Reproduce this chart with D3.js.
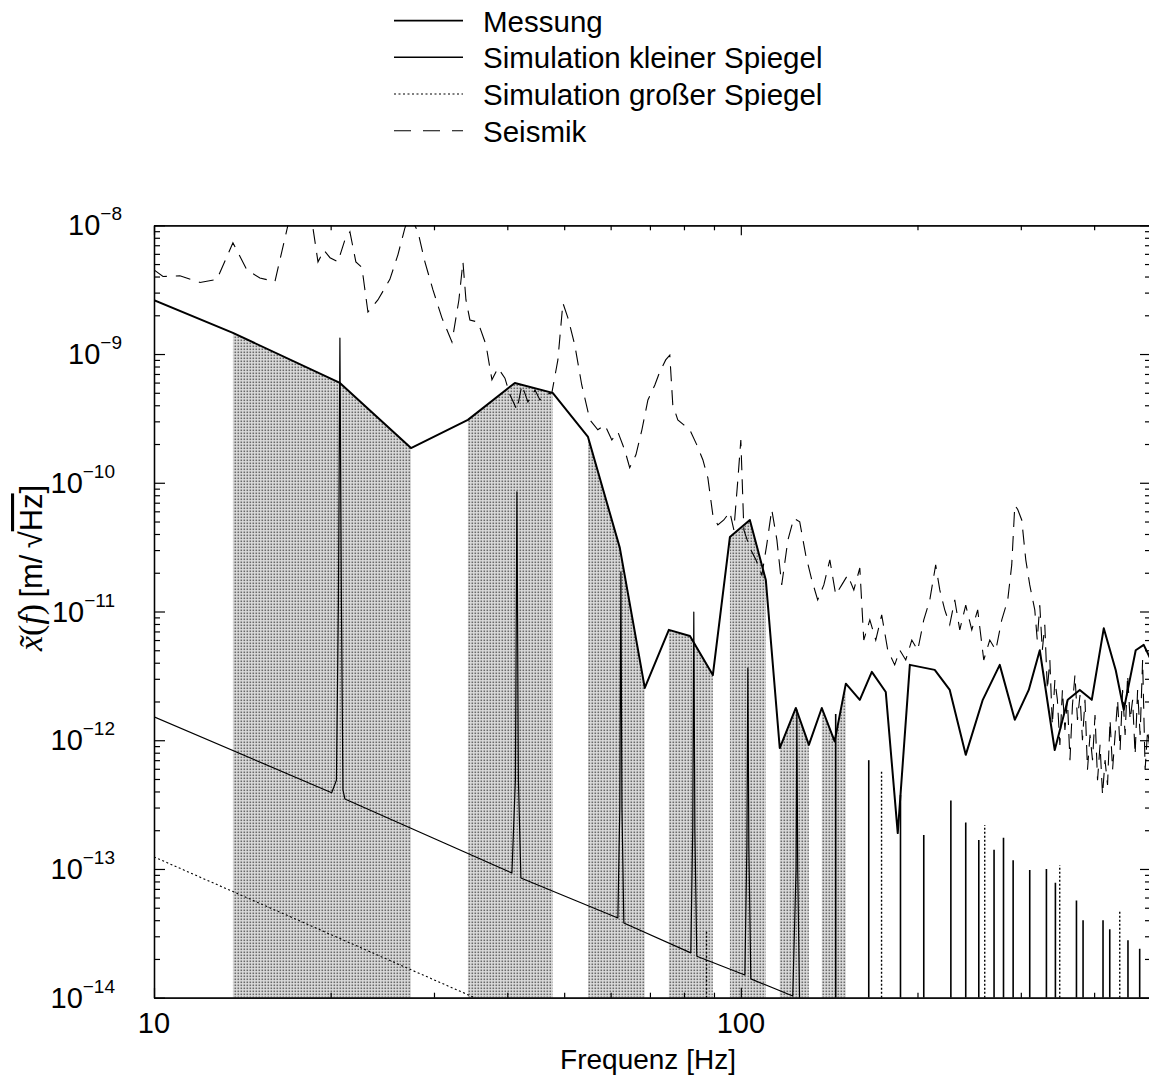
<!DOCTYPE html>
<html>
<head>
<meta charset="utf-8">
<script src="https://cdn.jsdelivr.net/npm/d3@7"></script>
<style>
  body { margin: 0; background: #fff; }
  svg { display: block; }
  text { font-family: "Liberation Sans", Arial, Helvetica, sans-serif; fill: #000; }
</style>
</head>
<body>
<svg id="chart" width="1149" height="1080"></svg>
<script>
// ---- data -------------------------------------------------------------
// Measured displacement spectrum [Hz, m/sqrt(Hz)]
const messung = [
  [10, 2.62e-9], [13.63, 1.46e-9], [20.74, 5.96e-10], [27.41, 1.86e-10], [34.27, 3.08e-10],
  [41.2, 5.96e-10], [47.8, 4.99e-10], [54.9, 2.27e-10], [62.2, 3.12e-11], [68.6, 2.55e-12],
  [75.4, 7.2e-12], [81.9, 6.45e-12], [89.6, 3.21e-12], [95.8, 3.79e-11],
  [103.6, 5.14e-11], [110.3, 1.76e-11], [116.5, 8.7e-13], [124.1, 1.78e-12], [130.6, 9.2e-13],
  [137.4, 1.78e-12], [144.5, 9.8e-13], [151, 2.75e-12], [159.5, 2.06e-12], [167.2, 3.4e-12],
  [176.6, 2.37e-12], [185.1, 1.9e-13], [194.1, 3.85e-12], [214, 3.52e-12], [227, 2.46e-12],
  [241.7, 7.7e-13], [258.4, 2.06e-12], [276.2, 3.85e-12], [293, 1.44e-12], [309.5, 2.46e-12],
  [323.2, 5.0e-12], [342.7, 8.4e-13], [360.7, 2.06e-12], [378.1, 2.46e-12], [396.3, 2.06e-12],
  [415.4, 7.4e-12], [435.4, 3.5e-12], [449.3, 1.72e-12], [470.9, 5.0e-12], [485.9, 5.5e-12],
  [500, 4.2e-12]
];

// Frequency bands (shaded) [Hz]
const baender = [
  [13.63, 27.41], [34.27, 47.8], [54.9, 68.6], [75.4, 89.6],
  [95.8, 110.3], [116.5, 130.6], [137.4, 151]
];

// Simulation, small mirror: continuous part with resonances
const simKlein = [
  [10, 1.52e-12],
  [20.08, 3.91e-13], [20.46, 4.9e-13], [20.62, 1.23e-11], [20.74, 1.33e-9], [20.86, 1.23e-11], [20.99, 4.1e-13], [21.15, 3.5e-13],
  [40.73, 9.3e-14], [41.29, 4.9e-13], [41.54, 8.5e-11], [41.78, 4.9e-13], [42.19, 8.5e-14],
  [61.73, 4.16e-14], [62.2, 3.0e-13], [62.46, 2.03e-11], [62.72, 3.0e-13], [63.19, 3.8e-14],
  [82.18, 2.23e-14], [82.8, 2.0e-13], [83.15, 9.9e-12], [83.5, 2.0e-13], [84.14, 2.1e-14],
  [101.6, 1.5e-14], [102.4, 1.5e-13], [102.8, 3.64e-12], [103.2, 1.5e-13], [104.0, 1.4e-14],
  [122.6, 1.03e-14], [124.2, 1.0e-13], [124.6, 1.72e-12], [125.0, 1.0e-13], [126.0, 8e-15]
];
// Simulation, small mirror: resonance peaks above the lower axis limit [Hz, m/sqrt(Hz)]
const simKleinSpitzen = [
  [145.1, 1.6e-12], [165.2, 7.0e-13], [187.1, 3.76e-13], [205.0, 1.84e-13], [228.0, 3.4e-13],
  [241.7, 2.3e-13], [254.4, 1.68e-13], [270.1, 1.41e-13], [280.3, 1.75e-13], [291.1, 1.17e-13],
  [310.7, 9.8e-14], [331.7, 1.0e-13], [343.6, 7.8e-14], [373.2, 5.7e-14], [383.0, 4.0e-14],
  [414.2, 4.0e-14], [425.3, 3.4e-14], [456.8, 2.8e-14], [478.3, 2.4e-14]
];

// Simulation, large mirror
const simGross = [[10, 1.24e-13], [35.2, 1.0e-14]];
const simGrossSpitzen = [[87.4, 3.36e-14], [173.7, 5.9e-13], [260.4, 2.2e-13], [349.5, 1.07e-13], [442.3, 4.8e-14]];

// Seismic noise
const seismik = [
  [10, 4.5e-9], [10.36, 4.0e-9], [11.07, 4.05e-9], [11.98, 3.6e-9], [12.8, 3.8e-9], [13.63, 7.3e-9],
  [14.4, 4.5e-9], [15.15, 3.9e-9], [16.07, 3.65e-9], [16.92, 1.01e-8], [17.39, 1.57e-8], [18.08, 1.44e-8],
  [18.66, 9.5e-9], [19.03, 5.2e-9], [19.48, 6.4e-9], [19.95, 5.6e-9], [20.58, 5.2e-9], [21.15, 7.7e-9],
  [21.57, 8.9e-9], [22.08, 5.2e-9], [22.61, 4.7e-9], [23.15, 2.12e-9], [24.07, 2.63e-9], [25.23, 3.8e-9],
  [26.04, 5.9e-9], [26.76, 9.5e-9], [27.29, 1.2e-8], [28.17, 8.9e-9], [28.95, 5.2e-9], [29.88, 3.15e-9],
  [30.95, 1.91e-9], [32.19, 1.24e-9], [33.08, 2.63e-9], [33.61, 5.2e-9], [34.01, 2.63e-9], [34.54, 1.84e-9],
  [35.65, 1.77e-9], [36.79, 1.18e-9], [37.66, 6.3e-10], [38.55, 7.8e-10], [39.63, 6.5e-10], [40.42, 4.82e-10],
  [41.54, 3.68e-10], [42.36, 5.75e-10], [43.37, 4.25e-10], [44.59, 5.26e-10], [45.46, 4.4e-10], [46.36, 4.82e-10],
  [47.64, 4.99e-10], [48.78, 9.0e-10], [49.75, 2.49e-9], [50.74, 1.91e-9], [52.12, 1.18e-9], [53.57, 5.75e-10],
  [55.31, 3.08e-10], [57.06, 2.58e-10], [58.65, 2.82e-10], [60.28, 2.15e-10], [61.73, 2.48e-10], [63.4, 1.8e-10],
  [64.66, 1.31e-10], [66.26, 1.65e-10], [67.83, 2.58e-10], [69.45, 4.4e-10], [71.37, 5.75e-10], [72.78, 7.3e-10],
  [74.47, 9.0e-10], [75.68, 9.8e-10], [76.57, 4.03e-10], [78.09, 3.08e-10], [79.95, 2.82e-10], [81.86, 2.58e-10],
  [84.14, 1.97e-10], [86.15, 1.51e-10], [87.87, 1.09e-10], [89.61, 5.6e-11], [91.38, 4.7e-11], [93.54, 5.14e-11],
  [95.79, 5.93e-11], [97.3, 4.3e-11], [98.83, 1.05e-10], [100.0, 2.15e-10], [101.2, 4.3e-11], [103.6, 3.12e-11],
  [106.1, 2.52e-11], [108.6, 1.92e-11], [110.7, 3.29e-11], [112.9, 6.2e-11], [115.2, 3.6e-11], [117.4, 1.61e-11],
  [120.3, 3.6e-11], [123.1, 5.3e-11], [126.0, 4.97e-11], [129.0, 2.75e-11], [132.1, 1.76e-11], [135.2, 1.23e-11],
  [138.5, 1.61e-11], [141.8, 2.52e-11], [145.1, 1.35e-11], [148.6, 1.61e-11], [152.1, 1.92e-11], [155.8, 1.47e-11],
  [159.5, 2.18e-11], [162.0, 6.0e-12], [165.9, 8.6e-12], [169.8, 6.0e-12], [173.8, 9.4e-12], [178.0, 5.0e-12],
  [182.9, 3.85e-12], [186.6, 5.0e-12], [191.0, 4.2e-12], [195.6, 6.0e-12], [200.2, 5.0e-12], [205.0, 8.6e-12],
  [209.9, 1.23e-11], [214.8, 2.3e-11], [218.3, 1.47e-11], [222.6, 1.03e-11], [227.0, 7.9e-12], [231.5, 1.23e-11],
  [236.1, 7.2e-12], [241.7, 1.12e-11], [247.5, 7.2e-12], [253.3, 1.03e-11], [259.4, 4.2e-12], [265.6, 6.0e-12],
  [271.9, 5.0e-12], [278.4, 8.6e-12], [285.0, 1.23e-11], [289.5, 2.3e-11], [293.0, 6.7e-11], [296.4, 6.2e-11],
  [301.1, 5.14e-11], [305.9, 2.52e-11], [310.7, 1.61e-11],
  [316.9, 1.03e-11], [320, 6.0e-12], [323.2, 1.12e-11], [326.4, 5.0e-12], [329.6, 7.9e-12], [332.9, 2.46e-12],
  [336.2, 4.2e-12], [339.5, 1.31e-12], [342.9, 2.94e-12], [346.3, 2.06e-12], [349.7, 9.2e-13], [353.2, 2.46e-12],
  [356.7, 1.2e-12], [360.2, 2.06e-12], [363.8, 7.0e-13], [367.4, 1.88e-12], [371, 3.21e-12], [374.7, 1.44e-12],
  [378.4, 2.24e-12], [382.1, 1.0e-12], [385.9, 2.06e-12], [389.7, 5.9e-13], [393.6, 1.1e-12], [397.5, 7.0e-13],
  [401.4, 1.57e-12], [405.4, 4.9e-13], [409.4, 9.2e-13], [413.4, 3.76e-13], [417.5, 7.0e-13], [421.6, 4.5e-13],
  [425.8, 1.44e-12], [430, 5.9e-13], [434.3, 1.1e-12], [438.6, 2.06e-12], [442.9, 8.4e-13], [447.3, 2.46e-12],
  [451.7, 1.1e-12], [456.2, 3.21e-12], [460.7, 1.44e-12], [465.2, 2.06e-12], [469.8, 7.7e-13], [474.4, 2.46e-12],
  [479.1, 1.1e-12], [483.8, 4.2e-12], [488.6, 5.9e-13], [493.4, 1.2e-12], [498.3, 8.4e-13]
];

const yExponenten = [-14, -13, -12, -11, -10, -9, -8];
const xTickLabels = [10, 100];
const legendLabels = ["Messung", "Simulation kleiner Spiegel", "Simulation großer Spiegel", "Seismik"];

// ---- scales ------------------------------------------------------------
const svg = d3.select("#chart");
const x = d3.scaleLog().domain([10, 500]).range([154, 1151]);
const y = d3.scaleLog().domain([1e-14, 1e-8]).range([997.7, 225.3]);
const [xL, xR] = x.range();
const [yB, yT] = y.range();

const defs = svg.append("defs");
defs.append("clipPath").attr("id", "plotclip")
  .append("rect").attr("x", xL).attr("y", yT).attr("width", xR - xL).attr("height", yB - yT);

const pat = defs.append("pattern").attr("id", "stipple")
  .attr("patternUnits", "userSpaceOnUse").attr("width", 3).attr("height", 3);
pat.append("rect").attr("width", 3).attr("height", 3).attr("fill", "#dcdcdc");
pat.append("rect").attr("x", 0.5).attr("y", 0.5).attr("width", 1.6).attr("height", 1.6).attr("fill", "#6a6a6a");

const plot = svg.append("g").attr("clip-path", "url(#plotclip)");
const line = d3.line().x(d => x(d[0])).y(d => y(d[1]));

// log-log interpolation of the measured curve
function messungAt(f) {
  for (let i = 0; i < messung.length - 1; i++) {
    const [f0, v0] = messung[i], [f1, v1] = messung[i + 1];
    if (f >= f0 && f <= f1) {
      const t = (Math.log(f) - Math.log(f0)) / (Math.log(f1) - Math.log(f0));
      return Math.exp(Math.log(v0) + t * (Math.log(v1) - Math.log(v0)));
    }
  }
  return messung[messung.length - 1][1];
}

// shaded bands under the measured curve
const area = d3.area().x(d => x(d[0])).y0(yB).y1(d => y(d[1]));
baender.forEach(([f0, f1]) => {
  const pts = [[f0, messungAt(f0)]]
    .concat(messung.filter(d => d[0] > f0 && d[0] < f1))
    .concat([[f1, messungAt(f1)]]);
  plot.append("path").datum(pts).attr("d", area).attr("fill", "url(#stipple)");
});

// large mirror simulation (dotted)
plot.append("path").datum(simGross).attr("d", line)
  .attr("fill", "none").attr("stroke", "#000").attr("stroke-width", 1.1).attr("stroke-dasharray", "2,2.5");
plot.selectAll(".gs").data(simGrossSpitzen).join("line")
  .attr("x1", d => x(d[0])).attr("x2", d => x(d[0]))
  .attr("y1", yB).attr("y2", d => y(d[1]))
  .attr("stroke", "#000").attr("stroke-width", 1.4).attr("stroke-dasharray", "2,2");

// small mirror simulation (thin solid)
plot.append("path").datum(simKlein).attr("d", line)
  .attr("fill", "none").attr("stroke", "#000").attr("stroke-width", 1.2).attr("stroke-linejoin", "round");
plot.selectAll(".ks").data(simKleinSpitzen).join("line")
  .attr("x1", d => x(d[0])).attr("x2", d => x(d[0]))
  .attr("y1", yB).attr("y2", d => y(d[1]))
  .attr("stroke", "#000").attr("stroke-width", 1.6);

// seismic (dashed)
plot.append("path").datum(seismik).attr("d", line)
  .attr("fill", "none").attr("stroke", "#000").attr("stroke-width", 1.1).attr("stroke-dasharray", "15,9");

// measurement (thick solid)
plot.append("path").datum(messung).attr("d", line)
  .attr("fill", "none").attr("stroke", "#000").attr("stroke-width", 2).attr("stroke-linejoin", "round");

// ---- axes --------------------------------------------------------------
const yMajor = yExponenten.map(e => Math.pow(10, e));
const yMinor = [];
yExponenten.slice(0, -1).forEach(e => { for (let k = 2; k <= 9; k++) yMinor.push(k * Math.pow(10, e)); });
const xMajor = xTickLabels;
const xMinor = [20, 30, 40, 50, 60, 70, 80, 90, 200, 300, 400];

function axisGroup(axis, tx, ty) {
  const g = svg.append("g").attr("transform", `translate(${tx},${ty})`).call(axis);
  g.selectAll("text").remove();
  g.selectAll("line").attr("stroke", "#000").attr("stroke-width", 1.2);
  g.select(".domain").attr("stroke", "#000").attr("stroke-width", 1.3);
  return g;
}
axisGroup(d3.axisLeft(y).tickValues(yMajor).tickSize(-11).tickSizeOuter(0), xL, 0);
axisGroup(d3.axisLeft(y).tickValues(yMinor).tickSize(-6).tickSizeOuter(0), xL, 0);
axisGroup(d3.axisRight(y).tickValues(yMajor).tickSize(-11).tickSizeOuter(0), xR, 0);
axisGroup(d3.axisRight(y).tickValues(yMinor).tickSize(-6).tickSizeOuter(0), xR, 0);
axisGroup(d3.axisBottom(x).tickValues(xMajor).tickSize(-10).tickSizeOuter(0), 0, yB);
axisGroup(d3.axisBottom(x).tickValues(xMinor).tickSize(-5).tickSizeOuter(0), 0, yB);
axisGroup(d3.axisTop(x).tickValues(xMajor).tickSize(-10).tickSizeOuter(0), 0, yT);
axisGroup(d3.axisTop(x).tickValues(xMinor).tickSize(-5).tickSizeOuter(0), 0, yT);

// y tick labels 10^e
yExponenten.forEach(e => {
  const sup = "\u2212" + Math.abs(e);
  const t = svg.append("text")
    .attr("x", Math.abs(e) >= 10 ? 115 : 122)
    .attr("y", y(Math.pow(10, e)) + 10)
    .attr("text-anchor", "end").attr("font-size", 29);
  t.append("tspan").text("10");
  t.append("tspan").attr("font-size", 19).attr("dy", -15).text(sup);
});

// x tick labels
xTickLabels.forEach(v => {
  svg.append("text").attr("x", x(v)).attr("y", 1033)
    .attr("text-anchor", "middle").attr("font-size", 29).text(v);
});

// axis titles
svg.append("text").attr("x", 648).attr("y", 1069).attr("text-anchor", "middle")
  .attr("font-size", 28).text("Frequenz [Hz]");

const yt = svg.append("text").attr("transform", "translate(42,651) rotate(-90)")
  .attr("text-anchor", "start").attr("font-size", 31);
const serif = "'Liberation Serif', 'DejaVu Serif', serif";
yt.append("tspan").attr("font-family", serif).attr("font-style", "italic").attr("font-size", 34).text("x\u0303");
yt.append("tspan").attr("font-family", serif).attr("font-size", 34).text("(");
yt.append("tspan").attr("font-family", serif).attr("font-style", "italic").attr("font-size", 34).text("f");
yt.append("tspan").attr("font-family", serif).attr("font-size", 34).text(")");
yt.append("tspan").text("\u2009[m/\u2009\u221A");
yt.append("tspan").attr("text-decoration", "overline").text("Hz");
yt.append("tspan").text("]");

// ---- legend ------------------------------------------------------------
const legendStyles = [
  { w: 1.8, dash: null },
  { w: 1.5, dash: null },
  { w: 1.1, dash: "2,2.5" },
  { w: 1.1, dash: "17,12" }
];
legendLabels.forEach((lab, i) => {
  const ly = 20.7 + i * 36.67;
  svg.append("line").attr("x1", 394).attr("x2", 463).attr("y1", ly).attr("y2", ly)
    .attr("stroke", "#000").attr("stroke-width", legendStyles[i].w)
    .attr("stroke-dasharray", legendStyles[i].dash);
  svg.append("text").attr("x", 483).attr("y", ly + 11).attr("font-size", 29.5).text(lab);
});
</script>
</body>
</html>
